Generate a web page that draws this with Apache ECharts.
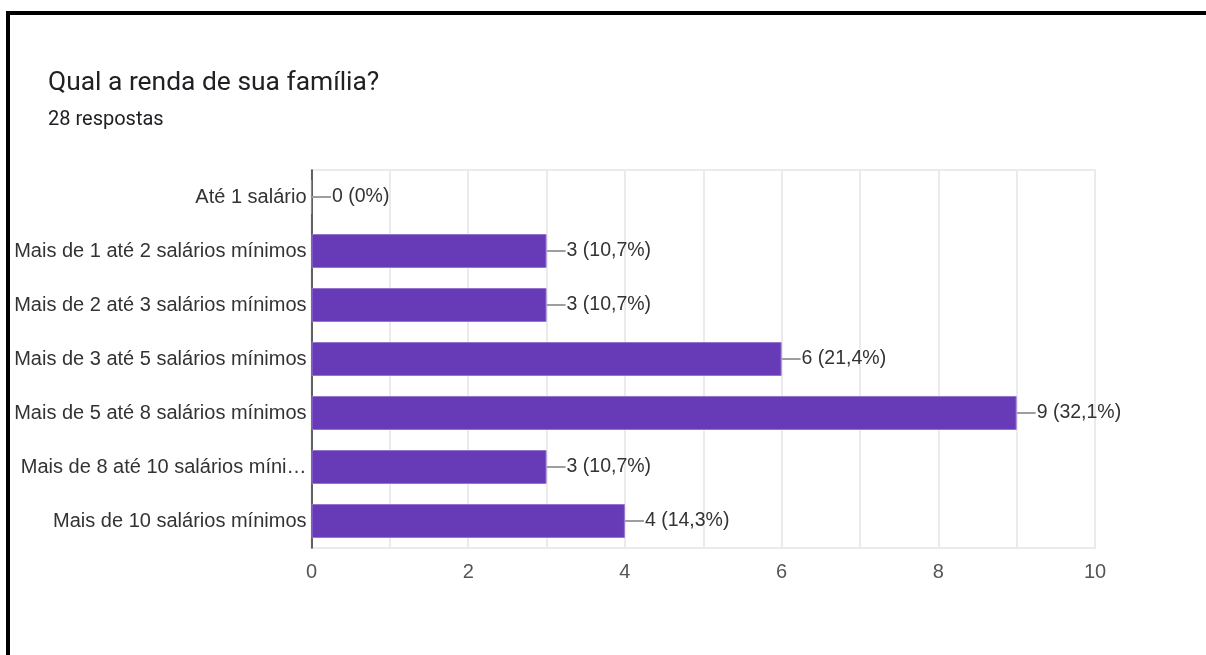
<!DOCTYPE html>
<html>
<head>
<meta charset="utf-8">
<title>Qual a renda de sua família?</title>
<script src="https://cdn.jsdelivr.net/npm/echarts@6/dist/echarts.min.js"></script>
<style>
  html, body { margin: 0; padding: 0; background: #fff; }
  #chart { width: 1206px; height: 655px; }
</style>
</head>
<body>
<div id="chart"></div>
<script>
// Survey answers: family income brackets
const titleText = 'Qual a renda de sua família?';
const subtitleText = '28 respostas';
const totalResponses = 28;
const categories = [
  'Até 1 salário',
  'Mais de 1 até 2 salários mínimos',
  'Mais de 2 até 3 salários mínimos',
  'Mais de 3 até 5 salários mínimos',
  'Mais de 5 até 8 salários mínimos',
  'Mais de 8 até 10 salários mínimos',
  'Mais de 10 salários mínimos'
];
const counts = [0, 3, 3, 6, 9, 3, 4];
const axisMax = 10;
const axisStep = 2;

const labelFont = '"Liberation Sans", Arial, sans-serif';
const labelFontSize = 20;
const labelMaxWidth = 296;

// Share of responses, one decimal, comma separator; whole numbers drop the decimal
function pct(v) {
  const tenths = Math.round(v / totalResponses * 1000);
  const s = tenths % 10 === 0 ? String(tenths / 10) : (tenths / 10).toFixed(1);
  return s.replace('.', ',');
}

// Shorten a category name with an ellipsis when it is wider than the label column
const measureCtx = document.createElement('canvas').getContext('2d');
function fitLabel(text) {
  measureCtx.font = labelFontSize + 'px ' + labelFont;
  if (measureCtx.measureText(text).width <= labelMaxWidth) return text;
  let cut = text.length;
  while (cut > 0 && measureCtx.measureText(text.slice(0, cut) + '…').width > labelMaxWidth) cut--;
  return text.slice(0, cut).trimEnd() + '…';
}

const chart = echarts.init(document.getElementById('chart'), null, { renderer: 'canvas' });

chart.setOption({
  animation: false,
  backgroundColor: '#ffffff',
  title: [
    {
      text: titleText,
      left: 43,
      top: 65,
      textStyle: {
        fontFamily: 'Roboto, sans-serif',
        fontWeight: 'normal',
        fontSize: 26.4,
        color: '#202124'
      }
    },
    {
      text: subtitleText,
      left: 43,
      top: 105,
      textStyle: {
        fontFamily: 'Roboto, sans-serif',
        fontWeight: 'normal',
        fontSize: 20,
        color: '#202124'
      }
    }
  ],
  grid: {
    left: 311.5,
    right: 111,
    top: 170,
    bottom: 107,
    show: true,
    borderColor: '#ebebeb',
    borderWidth: 2
  },
  xAxis: {
    type: 'value',
    min: 0,
    max: axisMax,
    interval: axisStep,
    axisLine: { show: false },
    axisTick: { show: false },
    axisLabel: {
      margin: 14,
      fontFamily: labelFont,
      fontSize: 20,
      color: '#555555'
    },
    splitLine: { show: true, lineStyle: { color: '#ebebeb', width: 2 } },
    minorTick: { show: false, splitNumber: 2 },
    minorSplitLine: { show: true, lineStyle: { color: '#ebebeb', width: 2 } }
  },
  yAxis: {
    type: 'category',
    data: categories,
    inverse: true,
    axisLine: { show: true, lineStyle: { color: '#333333', width: 1.5 } },
    axisTick: { show: false },
    axisLabel: {
      margin: 5,
      fontFamily: labelFont,
      fontSize: labelFontSize,
      color: '#333333',
      formatter: fitLabel
    },
    splitLine: { show: false }
  },
  series: [{
    type: 'bar',
    data: counts,
    barCategoryGap: '37%',
    itemStyle: {
      color: '#673ab7',
      borderColor: '#9575cd',
      borderWidth: 1
    },
    label: {
      show: true,
      position: 'right',
      distance: 0,
      formatter: function (p) {
        return '{lead|}{txt|' + p.value + ' (' + pct(p.value) + '%)}';
      },
      rich: {
        lead: {
          width: 19,
          height: 2,
          backgroundColor: '#9e9e9e',
          verticalAlign: 'middle'
        },
        txt: {
          fontFamily: labelFont,
          fontSize: 19.5,
          color: '#333333',
          padding: [0, 0, 0, 1]
        }
      }
    }
  }],
  graphic: [
    {
      type: 'rect',
      shape: { x: 6, y: 11, width: 1200, height: 4 },
      style: { fill: '#000000' },
      z: 100
    },
    {
      type: 'rect',
      shape: { x: 6, y: 11, width: 4, height: 644 },
      style: { fill: '#000000' },
      z: 100
    }
  ]
});
</script>
</body>
</html>
